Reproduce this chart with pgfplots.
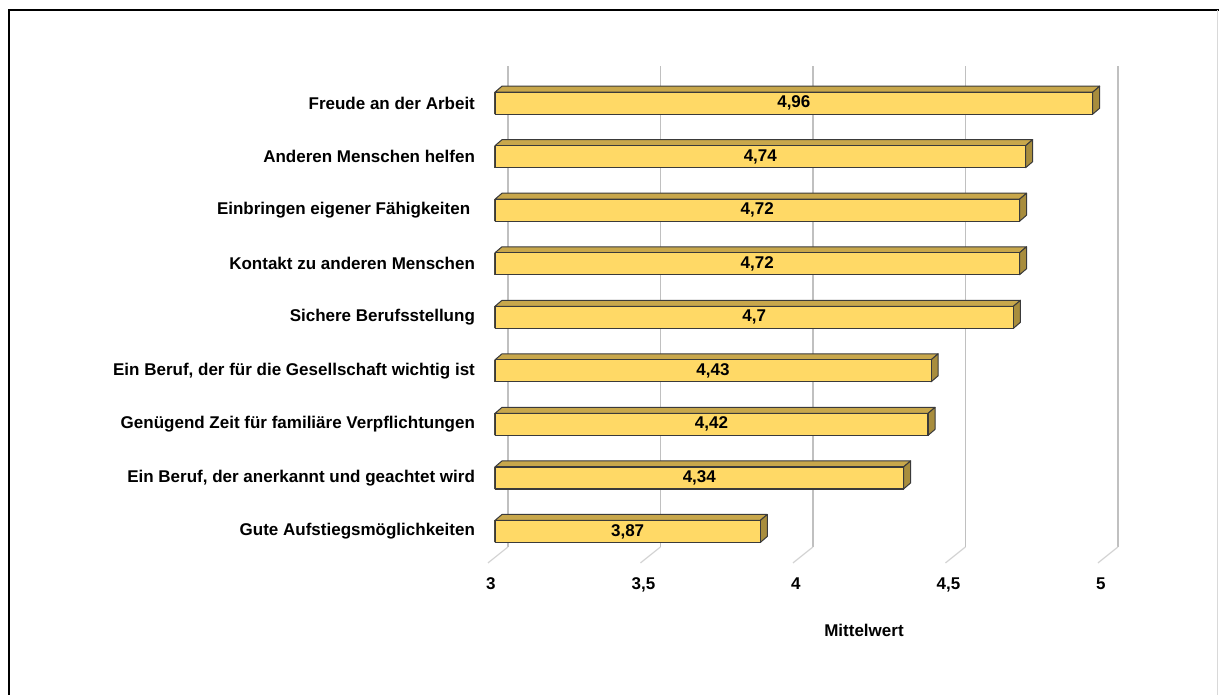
\documentclass[border=0pt]{standalone}
\usepackage{pgfplots}
\usepackage{pgfplotstable}
\pgfplotsset{compat=1.18}
\usepackage{fontspec}
\setmainfont{Liberation Sans}

\definecolor{barfront}{HTML}{FFD966}
\definecolor{bartop}{HTML}{C8A74B}
\definecolor{barside}{HTML}{A88D3D}
\definecolor{baredge}{HTML}{3A3A3A}
\definecolor{gridgray}{HTML}{C0C0C0}

% mean ratings, bottom row first
\pgfplotstableread{
i v
0 3.87
1 4.34
2 4.42
3 4.43
4 4.70
5 4.72
6 4.72
7 4.74
8 4.96
}\means

\newcommand\lblfont{\fontsize{8.5}{10}\selectfont\bfseries}

\begin{document}
\begin{tikzpicture}
\begin{axis}[
  x=152.5pt, y=26.77pt,
  xmin=3, xmax=5, ymin=-0.588, ymax=9,
  clip mode=individual,
  axis line style={draw=none},
  major tick length=0pt,
  xtick={3,3.5,4,4.5,5},
  ytick={0,...,8},
  yticklabels={
    Gute Aufstiegsmöglichkeiten,
    {Ein Beruf, der anerkannt und geachtet wird},
    Genügend Zeit für familiäre Verpflichtungen,
    {Ein Beruf, der für die Gesellschaft wichtig ist},
    Sichere Berufsstellung,
    Kontakt zu anderen Menschen,
    Einbringen eigener Fähigkeiten\kern0.28em,
    Anderen Menschen helfen,
    Freude an der Arbeit},
  xticklabel style={font=\lblfont, xshift=-2pt, yshift=-4pt},
  yticklabel style={font=\lblfont, xshift=-6.5pt},
  /pgf/number format/use comma,
  /pgf/number format/assume math mode=true,
]
% back-wall grid lines with their floor edges
\pgfplotsinvokeforeach{3,3.5,4,4.5,5}{
  \draw[gridgray, line width=0.9pt] ([xshift=6.5pt]axis cs:#1,8.694) -- ([xshift=6.5pt]axis cs:#1,-0.2895);
  \draw[gridgray!70, line width=0.6pt] ([xshift=6.5pt]axis cs:#1,-0.2895) -- ([xshift=-3.5pt]axis cs:#1,-0.588);
}

% depth faces (top and right end) of each bar
\addplot[scatter, only marks, mark=*,
  visualization depends on={rawx \as \val},
  scatter/@pre marker code/.code={%
    \pgfmathsetmacro\len{(\val-3)*152.5}%
    \filldraw[fill=bartop, draw=baredge, line width=0.5pt, line join=round]
      (-\len pt,5.5pt) -- (-\len pt+3.5pt,8.5pt) -- (3.5pt,8.5pt) -- (0pt,5.5pt) -- cycle;
    \filldraw[fill=barside, draw=baredge, line width=0.5pt, line join=round]
      (0pt,5.5pt) -- (3.5pt,8.5pt) -- (3.5pt,-2.5pt) -- (0pt,-5.5pt) -- cycle;
    \draw[baredge, line width=0.6pt] (-\len pt,-5.5pt) -- (-\len pt,5.5pt);
    \pgfscope\pgfsetfillopacity{0}\pgfsetstrokeopacity{0}%
  },
  scatter/@post marker code/.code={\endpgfscope},
] table[x=v, y=i] {\means};

% front faces
\addplot[xbar, bar width=11pt, bar shift=0pt, fill=barfront, draw=baredge, line width=0.6pt]
  table[x=v, y=i] {\means};

% value labels, centred on each bar
\addplot[draw=none, mark=none, point meta=explicit, nodes near coords,
  every node near coord/.append style={font=\lblfont, anchor=center, text=black}]
  table[x expr=(\thisrow{v}+3)/2, y=i, meta=v] {\means};

\node[font=\lblfont] at (axis cs:4.21,-1.84) {Mittelwert};

% outer frame
\draw[black, line width=1.1pt] (axis cs:1.4066,-3.3) -- (axis cs:1.4066,9.740) -- (axis cs:5.45,9.740);
\draw[gray!30, line width=0.5pt] (axis cs:5.369,9.740) -- (axis cs:5.369,-3.3);

\coordinate (bbl) at (axis cs:1.377,-3.054);
\coordinate (btr) at (axis cs:5.374,9.927);
\end{axis}
\pgfresetboundingbox
\path[use as bounding box] (bbl) rectangle (btr);
\end{tikzpicture}
\end{document}
